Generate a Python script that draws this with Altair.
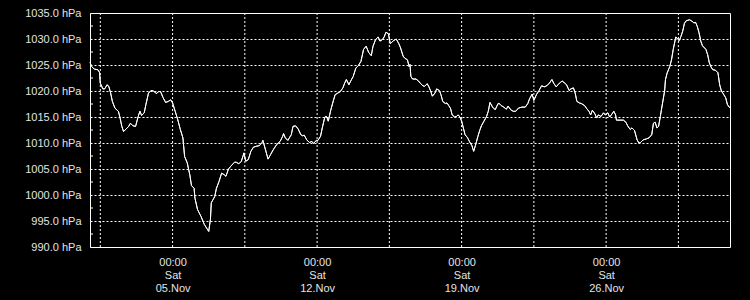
import altair as alt
import pandas as pd

# hours since 2022-11-01 00:00 UTC and pressure (hPa)
hours = [0, 2, 5, 9, 11, 12, 15, 17, 20, 22, 24, 26, 29, 33, 35, 37, 39, 42, 45, 47,
         50, 53, 56, 58, 60, 63, 65, 68, 71, 74, 77, 80, 82, 85, 88, 91, 94, 96, 99, 102,
         105, 108, 110, 113, 116, 118, 121, 122,
         125, 129, 133, 138, 140, 141, 145, 147, 150, 153, 156, 158, 161, 164, 168, 170, 173, 176, 179, 181,
         184, 187, 190, 194, 197, 200, 201, 204, 207, 210, 213, 217, 221, 224, 225, 227, 230, 234, 236, 239,
         242, 245, 247,
         249, 252, 255, 258, 260, 263, 265, 268, 270, 273, 275, 277, 280, 283, 285, 288, 291, 294, 296, 298,
         301, 303, 306, 309, 312, 315, 318, 321, 324, 327, 329, 332, 335, 337, 340, 342, 344, 347, 349, 351,
         353, 356, 359, 361, 364, 366, 369, 371,
         372, 373, 375, 379, 382, 384, 387, 389, 392, 394, 396, 398, 401, 403, 406, 408, 410, 413, 415, 417,
         419, 421, 424, 426, 428, 430, 432, 434, 436, 439, 441, 444, 446, 448, 451, 453, 455, 458, 461, 463,
         465, 468, 471, 473, 475, 478, 481, 484, 486, 489, 492, 495,
         498, 502, 506, 509, 511, 514, 516, 519, 522, 525, 528, 531, 534, 537, 539, 542, 544, 547, 549, 552,
         554, 557, 559, 562, 564, 566, 569, 571, 575, 577, 580, 582, 584, 587, 589, 591, 594, 597, 599, 602,
         604, 606, 609, 611, 612, 615, 620,
         623, 625, 628, 630, 633, 636, 638, 640, 643, 647, 650, 653, 655, 657, 659, 661, 663, 665, 668, 669,
         671, 674, 676, 678, 680, 681, 683, 685, 687, 689, 691, 693, 697, 700, 702, 704, 706, 708, 710, 712,
         716, 718, 720, 722, 724, 727, 730, 732, 734, 736, 739, 741, 743, 744]

pressure = [1025.5, 1024.7, 1024.2, 1024.1, 1023.6, 1021.5, 1020.4, 1020.4, 1021.2, 1020.8, 1019.6, 1018.0, 1016.7, 1016.1, 1014.8, 1013.2, 1012.2, 1012.7, 1013.2, 1013.8,
            1013.3, 1013.2, 1015.1, 1016.1, 1015.3, 1015.8, 1017.4, 1019.6, 1020.1, 1020.0, 1019.5, 1019.9, 1019.9, 1018.7, 1017.8, 1018.0, 1018.3, 1017.7, 1016.1, 1014.5,
            1012.6, 1011.0, 1007.4, 1006.2, 1003.9, 1001.8, 1001.3, 999.4,
            997.2, 995.9, 994.3, 993.0, 995.3, 998.5, 999.7, 1001.3, 1002.6, 1004.2, 1003.9, 1003.6, 1005.0, 1005.6, 1006.3, 1006.3, 1006.0, 1006.5, 1008.1, 1006.5,
            1006.8, 1008.4, 1009.2, 1009.4, 1009.5, 1010.1, 1010.5, 1008.7, 1006.9, 1007.8, 1008.7, 1009.7, 1010.3, 1011.3, 1011.8, 1011.0, 1010.5, 1011.6, 1013.2, 1013.3,
            1012.7, 1011.6, 1011.4,
            1011.5, 1010.6, 1010.1, 1010.3, 1009.9, 1010.5, 1010.5, 1011.3, 1012.9, 1015.0, 1015.1, 1014.2, 1016.4, 1018.2, 1019.3, 1019.6, 1019.9, 1020.6, 1021.5, 1022.2,
            1021.2, 1021.9, 1022.8, 1024.4, 1024.9, 1025.7, 1028.0, 1028.6, 1027.4, 1026.8, 1028.6, 1029.9, 1030.4, 1029.6, 1029.9, 1030.4, 1031.3, 1031.0, 1029.1, 1029.4,
            1029.7, 1030.0, 1029.1, 1028.3, 1026.7, 1026.3, 1026.0, 1024.7,
            1025.1, 1022.8, 1022.3, 1022.3, 1021.9, 1021.5, 1021.0, 1020.9, 1021.4, 1020.8, 1020.0, 1019.0, 1019.6, 1020.4, 1020.1, 1019.3, 1018.0, 1017.6, 1017.7, 1017.2,
            1016.7, 1015.4, 1015.0, 1015.1, 1015.4, 1015.0, 1014.2, 1012.9, 1011.6, 1011.0, 1010.3, 1009.5, 1008.4, 1009.5, 1011.3, 1012.4, 1013.3, 1014.2, 1015.1, 1016.1,
            1017.8, 1016.9, 1016.4, 1017.1, 1017.7, 1017.2, 1016.9, 1016.5, 1017.1, 1016.4, 1016.1, 1016.1,
            1016.7, 1016.9, 1016.9, 1017.6, 1018.5, 1019.4, 1018.2, 1019.3, 1020.1, 1021.0, 1020.8, 1021.0, 1021.5, 1022.2, 1021.5, 1020.8, 1021.2, 1021.7, 1021.9, 1021.5,
            1021.2, 1020.1, 1020.4, 1020.6, 1019.6, 1018.0, 1017.7, 1017.6, 1017.2, 1016.7, 1016.1, 1015.4, 1016.3, 1015.6, 1014.8, 1015.4, 1015.1, 1015.8, 1015.4, 1015.8,
            1015.0, 1015.4, 1016.1, 1015.4, 1014.4, 1014.4, 1014.4,
            1014.0, 1013.3, 1012.6, 1012.9, 1012.4, 1010.6, 1010.0, 1010.1, 1010.6, 1010.8, 1011.0, 1011.6, 1013.8, 1014.0, 1012.9, 1013.2, 1015.1, 1017.1, 1020.0, 1022.2,
            1023.5, 1024.7, 1026.0, 1028.0, 1029.6, 1030.4, 1030.0, 1029.7, 1030.5, 1031.5, 1033.0, 1033.5, 1033.7, 1033.4, 1033.1, 1033.2, 1032.4, 1031.2, 1029.6, 1028.7,
            1028.0, 1027.0, 1025.4, 1024.6, 1024.1, 1024.0, 1023.5, 1021.2, 1020.0, 1019.5, 1018.7, 1017.4, 1016.9, 1016.8]

grid_times = ["2022-11-01T12:00:00Z", "2022-11-05T00:00:00Z", "2022-11-08T12:00:00Z",
              "2022-11-12T00:00:00Z", "2022-11-15T12:00:00Z", "2022-11-19T00:00:00Z",
              "2022-11-22T12:00:00Z", "2022-11-26T00:00:00Z", "2022-11-29T12:00:00Z"]
label_days = [5, 12, 19, 26]
y_ticks = [990, 995, 1000, 1005, 1010, 1015, 1020, 1025, 1030, 1035]
y_minor = [992.5, 997.5, 1002.5, 1007.5, 1012.5, 1017.5, 1022.5, 1027.5, 1032.5]

start = pd.Timestamp("2022-11-01T00:00:00")
df = pd.DataFrame({
    "t": [(start + pd.Timedelta(hours=h)).strftime("%Y-%m-%dT%H:%M:%SZ") for h in hours],
    "p": pressure,
})
grid_df = pd.DataFrame({"t": grid_times})
minor_df = pd.DataFrame({"p": y_minor})

xscale = alt.Scale(type="utc",
                   domain=[alt.DateTime(year=2022, month=11, date=1, utc=True),
                           alt.DateTime(year=2022, month=12, date=2, utc=True)])
yscale = alt.Scale(domain=[990, 1035], nice=False, zero=False)

label_color = "#e4e4e4"
font = "Liberation Sans"

x_axis = alt.Axis(
    values=[alt.DateTime(year=2022, month=11, date=d, utc=True) for d in label_days],
    labelExpr="[utcFormat(datum.value, '%H:%M'), utcFormat(datum.value, '%a'), utcFormat(datum.value, '%d.%b')]",
    grid=False, ticks=False, domain=False, title=None,
    labelColor=label_color, labelFont=font, labelFontSize=11,
    labelLineHeight=13, labelPadding=9, labelAlign="center",
    labelBaseline="top", labelFlush=False, labelOverlap=False)

y_axis = alt.Axis(
    values=y_ticks,
    labelExpr="format(datum.value, '.1f') + ' hPa'",
    grid=True, gridColor="white", gridDash=[2, 2], gridOpacity=1, gridWidth=1,
    ticks=False, domain=False, title=None,
    labelColor=label_color, labelFont=font, labelFontSize=11,
    labelPadding=9, labelFlush=False, labelOverlap=False)

line = alt.Chart(df).mark_line(color="white", strokeWidth=1).encode(
    x=alt.X("t:T", scale=xscale, axis=x_axis),
    y=alt.Y("p:Q", scale=yscale, axis=y_axis),
)

vgrid = alt.Chart(grid_df).mark_rule(color="white", strokeDash=[2, 2], strokeWidth=1).encode(
    x=alt.X("t:T", scale=xscale, axis=x_axis)
)

minor = alt.Chart(minor_df).mark_rule(color="white", strokeWidth=1).encode(
    x=alt.value(0), x2=alt.value(3),
    y=alt.Y("p:Q", scale=yscale, axis=y_axis)
)

chart = alt.layer(line, vgrid, minor, line).properties(
    width=640, height=234,
    background="black",
    padding={"left": 90, "top": 13, "right": 20, "bottom": 53},
    autosize=alt.AutoSizeParams(type="none"),
).configure_view(stroke="white", strokeWidth=1, fill="black")

chart.save("out.html", embed_options={"renderer": "svg", "actions": False})
